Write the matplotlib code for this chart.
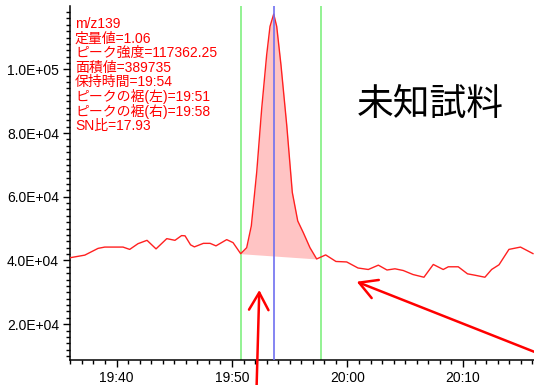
import matplotlib
matplotlib.use('Agg')
import matplotlib.pyplot as plt
from matplotlib.ticker import MultipleLocator, FuncFormatter

# chromatogram for m/z 139 (time in minutes after 19:00)
times = [35.97, 37.25, 38.40, 38.98, 40.56, 41.14, 41.86, 42.64, 43.42, 44.35,
         45.06, 45.63, 45.93, 46.41, 46.74, 47.52, 48.10, 48.61, 49.54, 50.09,
         50.75, 51.27, 51.67, 52.14, 52.57, 53.00, 53.29, 53.61, 53.87, 54.24,
         54.74, 55.22, 55.69, 56.17, 56.75, 57.33, 58.11, 59.00, 59.93, 60.91,
         61.80, 62.67, 63.42, 64.11, 64.83, 65.67, 66.62, 67.43, 68.29, 68.73,
         69.59, 70.39, 71.04, 71.90, 72.48, 73.12, 73.98, 74.98, 76.06]
intensity = [40850, 41670, 43790, 44200, 44200, 43470, 45270, 46320, 43630, 46850,
             46320, 47800, 47740, 44900, 44260, 45370, 45370, 44580, 46540, 45590,
             42120, 44010, 50830, 67790, 87690, 104520, 113490, 117362.25, 113490, 101360,
             82410, 61380, 52410, 48750, 44010, 40470, 41740, 39680, 39530, 37630,
             37160, 38520, 37000, 37380, 36840, 35580, 34730, 38740, 37160, 38010,
             38010, 35800, 35360, 34730, 37160, 38640, 43470, 44200, 42150]

# peak integration window (indices into the series) and marker lines
peak_start, peak_end = 20, 35
left_edge = 50.75
right_edge = 57.72
apex_time = 53.61

info_lines = ['m/z139', '定量値=1.06', 'ピーク強度=117362.25', '面積値=389735',
              '保持時間=19:54', 'ピークの裾(左)=19:51', 'ピークの裾(右)=19:58', 'SN比=17.93']
sample_label = '未知試料'

fig = plt.figure(figsize=(5.34, 3.85), dpi=100)
ax = fig.add_axes([70 / 534, 25 / 385, 464 / 534, 354 / 385])

ax.plot(times, intensity, color='#ff2020', lw=1.0, zorder=3)

# shaded peak area above a straight baseline between the two valleys
t0, t1 = times[peak_start], times[peak_end]
v0, v1 = intensity[peak_start], intensity[peak_end]
seg_t = times[peak_start:peak_end + 1]
seg_v = intensity[peak_start:peak_end + 1]
base = [v0 + (t - t0) * (v1 - v0) / (t1 - t0) for t in seg_t]
ax.fill_between(seg_t, base, seg_v, color='#ffc4c4', lw=0, zorder=2)

ax.axvline(left_edge, color='#80f080', lw=1.2, zorder=1)
ax.axvline(right_edge, color='#80f080', lw=1.2, zorder=1)
ax.axvline(apex_time, color='#7070f0', lw=1.2, zorder=4)

ax.set_xlim(35.97, 76.15)
ax.set_ylim(8740, 119900)

ax.xaxis.set_major_locator(MultipleLocator(10))
ax.xaxis.set_minor_locator(MultipleLocator(1))
ax.xaxis.set_major_formatter(FuncFormatter(
    lambda m, pos: '%d:%02d' % (19 + int(round(m)) // 60, int(round(m)) % 60)))
ax.yaxis.set_major_locator(MultipleLocator(20000))
ax.yaxis.set_minor_locator(MultipleLocator(2000))
ax.yaxis.set_major_formatter(FuncFormatter(lambda v, pos: '{:.1E}'.format(v)))

for side in ['top', 'right']:
    ax.spines[side].set_visible(False)
for side in ['left', 'bottom']:
    ax.spines[side].set_linewidth(1.1)

ax.tick_params(which='major', direction='out', length=5, width=1.0,
               labelsize=10, pad=3)
ax.tick_params(which='minor', direction='out', length=3, width=1.0)
for lab in ax.get_xticklabels() + ax.get_yticklabels():
    lab.set_family('Liberation Sans')

# peak information block
fam = ['Liberation Sans', 'Noto Sans CJK JP', 'DejaVu Sans']
for i, line in enumerate(info_lines):
    ax.text(5 / 464, 1 - (18 + 14.6 * i) / 354, line, transform=ax.transAxes,
            color='#ff0000', fontsize=10, family=fam, va='center', ha='left')

fig.text(430 / 534, 1 - 105 / 385, sample_label, fontsize=26.5,
         family=['Noto Sans CJK JP', 'DejaVu Sans'], ha='center', va='center')

# red arrows pointing at the baseline
arrow = dict(arrowstyle='->,head_length=1.25,head_width=0.7', color='#ff0000',
             lw=1.8, shrinkA=0, shrinkB=0, mutation_scale=10)
ax.annotate('', xy=(259.3, 95), xytext=(256.5, -5), xycoords='figure pixels',
            textcoords='figure pixels', arrowprops=arrow, annotation_clip=False)
ax.annotate('', xy=(356.7, 103.3), xytext=(536, 32.5), xycoords='figure pixels',
            textcoords='figure pixels', arrowprops=arrow, annotation_clip=False)

fig.savefig('out.png', dpi=100)
plt.close(fig)
